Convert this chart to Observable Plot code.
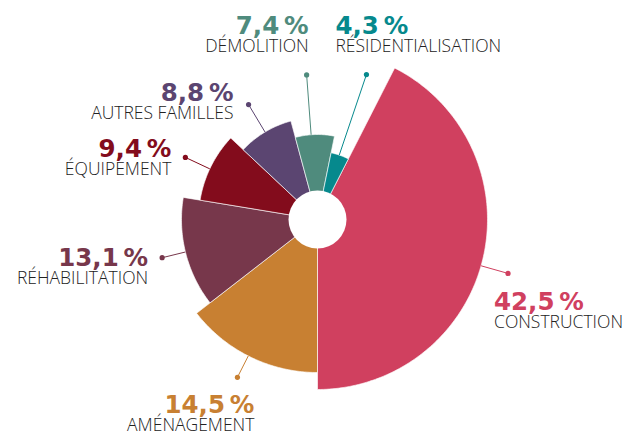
<!DOCTYPE html>
<html>
<head>
<meta charset="utf-8">
<script src="https://cdn.jsdelivr.net/npm/d3@7"></script>
<script src="https://cdn.jsdelivr.net/npm/@observablehq/plot@0.6"></script>
<style>
  html, body { margin: 0; padding: 0; background: #fff; }
  #chart svg { display: block; }
</style>
</head>
<body>
<div id="chart"></div>
<script>
// ---- data ----
const categories = ["CONSTRUCTION", "AMÉNAGEMENT", "RÉHABILITATION", "ÉQUIPEMENT", "AUTRES FAMILLES", "DÉMOLITION", "RÉSIDENTIALISATION"];
const shares = [42.5, 14.5, 13.1, 9.4, 8.8, 7.4, 4.3];

// ---- styles / layout (not data) ----
const colors = ["#D0405F", "#C88032", "#77374B", "#830C1C", "#5B4571", "#4F8B7D", "#06898D"];
const W = 629, H = 432;
const cx = 317, cy = 219, holeR = 29;
const radiusRange = [68, 170];            // smallest share -> largest share (by rank)
const leaderLength = [28, 24, 24, 27, 32, 60, 85];
const leaderTurn = [2.3, 0.8, 0.4, -1.1, 0, -2.5, -0.6];   // degrees away from slice middle
const labelOffset = [[-14, 37], [17, 36], [-14, 8], [-14, 0], [-15, -4], [2, -41], [-31, -41]];
const labelAnchor = ["start", "end", "end", "end", "end", "end", "start"];

const fmt = v => v.toFixed(1).replace(".", ",") + "\u202F%";
const total = d3.sum(shares);
const n = shares.length;
const rankScale = d3.scaleLinear([0, n - 1], radiusRange);
const ranks = shares.map(v => shares.filter(w => w < v).length);

const startAngle = Math.PI - 2 * Math.PI * shares[0] / total;
const arcs = d3.pie().sort(null).startAngle(startAngle).endAngle(startAngle + 2 * Math.PI)(shares);

const px = (a, r) => cx + r * Math.sin(a);
const py = (a, r) => cy - r * Math.cos(a);

const slices = arcs.map((a, i) => ({
  cat: categories[i], value: shares[i], a0: a.startAngle, a1: a.endAngle,
  mid: (a.startAngle + a.endAngle) / 2, r: rankScale(ranks[i]), i
}));

const polyPoints = [];
for (const s of slices) {
  polyPoints.push({cat: s.cat, x: cx, y: cy});
  const steps = Math.max(8, Math.ceil((s.a1 - s.a0) / (Math.PI / 180)));
  for (let k = 0; k <= steps; k++) {
    const a = s.a0 + (s.a1 - s.a0) * k / steps;
    polyPoints.push({cat: s.cat, x: px(a, s.r), y: py(a, s.r)});
  }
  polyPoints.push({cat: s.cat, x: cx, y: cy});
}

const leaders = slices.map(s => {
  const ang = s.mid + leaderTurn[s.i] * Math.PI / 180;
  const rd = s.r + leaderLength[s.i];
  const dx = px(ang, rd), dy = py(ang, rd);
  return {
    cat: s.cat, value: s.value,
    x1: px(ang, s.r), y1: py(ang, s.r), x2: dx, y2: dy,
    lx: dx + labelOffset[s.i][0], ly: dy + labelOffset[s.i][1],
    anchor: labelAnchor[s.i]
  };
});

const pctFont = {fontFamily: "DejaVu Sans", fontWeight: "bold", fontSize: 24.5, lineAnchor: "bottom"};
const nameFont = {fontFamily: "Open Sans", fontWeight: 300, fontSize: 17.5, fill: "#222", lineAnchor: "bottom"};

const textMarks = [];
for (const anchor of ["start", "end"]) {
  const sub = leaders.filter(d => d.anchor === anchor);
  textMarks.push(Plot.text(sub, {x: "lx", y: "ly", text: d => fmt(d.value), fill: "cat", textAnchor: anchor, ...pctFont}));
  textMarks.push(Plot.text(sub, {x: "lx", y: d => d.ly + 18, text: "cat", textAnchor: anchor, ...nameFont}));
}

const chart = Plot.plot({
  width: W, height: H,
  margin: 0,
  x: {domain: [0, W], range: [0, W], axis: null},
  y: {domain: [0, H], range: [0, H], axis: null},
  color: {domain: categories, range: colors},
  style: {background: "#fff", overflow: "visible"},
  marks: [
    Plot.line(polyPoints, {x: "x", y: "y", z: "cat", fill: "cat", stroke: "white", strokeWidth: 0.7, strokeOpacity: 0.9, curve: "linear"}),
    Plot.dot([{x: cx, y: cy}], {x: "x", y: "y", r: holeR, fill: "white", stroke: "none"}),
    Plot.link(leaders, {x1: "x1", y1: "y1", x2: "x2", y2: "y2", stroke: "cat", strokeWidth: 1}),
    Plot.dot(leaders, {x: "x2", y: "y2", r: 2.6, fill: "cat", stroke: "none"}),
    ...textMarks
  ]
});
document.getElementById("chart").append(chart);
</script>
</body>
</html>
